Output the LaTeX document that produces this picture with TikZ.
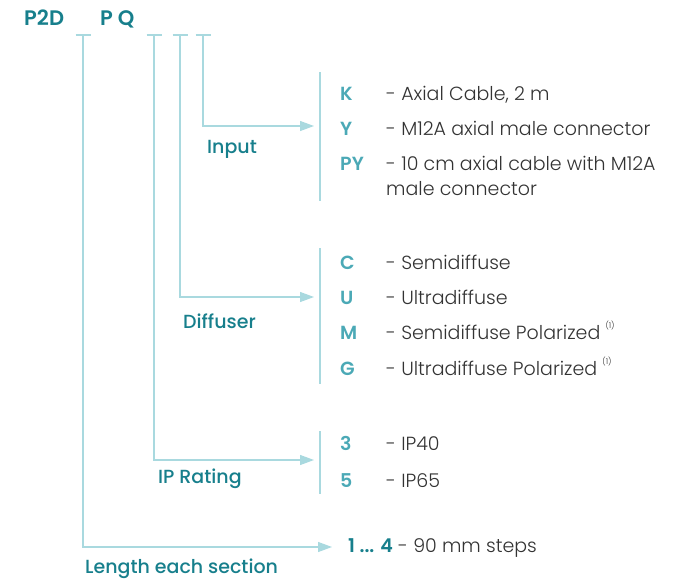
\documentclass[tikz,border=0pt]{standalone}
\usepackage{fontspec}
\setmainfont{Poppins}[BoldFont={Poppins Medium}]
\newfontfamily\lightfont{Poppins Light}
\newfontfamily\semifont{Poppins SemiBold}
\usetikzlibrary{arrows.meta}
\definecolor{darkteal}{HTML}{177F8C}
\definecolor{codeteal}{HTML}{4BA9B6}
\definecolor{lineteal}{HTML}{A9D9DF}
\definecolor{desctext}{HTML}{333333}

\tikzset{
  link/.style={lineteal,line width=1.2pt},
  tolist/.style={link,-{Triangle[length=14pt,width=10pt]}},
  field/.style={darkteal,font=\fontsize{19}{22}\selectfont\bfseries,anchor=base west,inner sep=0pt},
  code/.style={codeteal,font=\fontsize{19}{22}\selectfont\semifont,anchor=base west,inner sep=0pt},
  desc/.style={desctext,font=\fontsize{19}{22}\selectfont\lightfont,anchor=base west,inner sep=0pt}
}
\newcommand{\fnote}{\ \raisebox{1.0ex}{\fontsize{8}{8}\selectfont(1)}}

\begin{document}
\begin{tikzpicture}[x=1pt,y=-1pt]
\useasboundingbox (0,0) rectangle (675,581);

% product code
\node[field,font=\fontsize{21}{24}\selectfont\semifont] (p2d) at (24,25) {P2D};
\node[field,font=\fontsize{21}{24}\selectfont\semifont] (pq) at (100,25) {P Q};

% ticks under the code
\coordinate (tlen) at (83,35);
\coordinate (tip) at (154,35);
\coordinate (tdif) at (180,35);
\coordinate (tinp) at (203,35);
\foreach \t in {tlen,tip,tdif,tinp}
  \draw[link] ([xshift=-7.5pt]\t) -- ([xshift=7.5pt]\t);

% arrow ends
\coordinate (ainp) at (314,126);
\coordinate (adif) at (314,297);
\coordinate (aip) at (314,460);
\coordinate (alen) at (332,547);

\draw[tolist] (tinp) |- (ainp);
\draw[tolist] (tdif) |- (adif);
\draw[tolist] (tip) |- (aip);
\draw[tolist] (tlen) |- (alen);

% brackets
\draw[link] (320,72) -- (320,201);
\draw[link] (320,248) -- (320,384);
\draw[link] (320,431) -- (320,494);

% field names
\node[field] (input) at (207,153) {Input};
\node[field] (diffuser) at (183,328) {Diffuser};
\node[field] (iprating) at (158,483) {IP Rating};
\node[field] (length) at (85,573) {Length each section};

% input options
\node[code] (k) at (340,100) {K};
\node[desc] (kd) at (386,100) {- Axial Cable, 2 m};
\node[code] (y) at (340,135) {Y};
\node[desc] (yd) at (386,135) {- M12A axial male connector};
\node[code] (py) at (340,170) {PY};
\node[desc] (pyd) at (386,170) {- 10 cm axial cable with M12A};
\node[desc] (pyd2) at (386,195) {male connector};

% diffuser options
\node[code] (c) at (340,269) {C};
\node[desc] (cd) at (386,269) {- Semidiffuse};
\node[code] (u) at (340,304) {U};
\node[desc] (ud) at (386,304) {- Ultradiffuse};
\node[code] (m) at (340,339) {M};
\node[desc] (md) at (386,339) {- Semidiffuse Polarized\fnote};
\node[code] (g) at (340,375) {G};
\node[desc] (gd) at (386,375) {- Ultradiffuse Polarized\fnote};

% ip options
\node[code] (three) at (340,450) {3};
\node[desc] (threed) at (386,450) {- IP40};
\node[code] (five) at (340,487) {5};
\node[desc] (fived) at (386,487) {- IP65};

% length options
\node[desc] (lend) at (348,552) {\textcolor{darkteal}{\semifont 1 ... 4} - 90 mm steps};
\end{tikzpicture}
\end{document}
